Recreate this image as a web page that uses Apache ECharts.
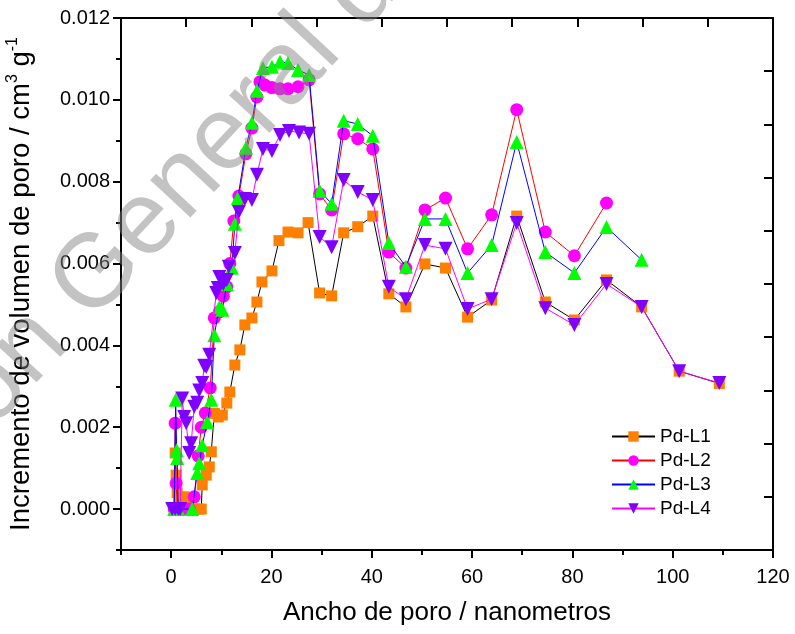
<!DOCTYPE html>
<html>
<head>
<meta charset="utf-8">
<script src="https://cdn.jsdelivr.net/npm/echarts@6/dist/echarts.min.js"></script>
<style>html,body{margin:0;padding:0;background:#fff;}#c{width:795px;height:634px;}</style>
</head>
<body>
<div id="c"></div>
<script>
// ---- data ----
var seriesNames = ['Pd-L1', 'Pd-L2', 'Pd-L3', 'Pd-L4'];
var xTickLabels = [0, 20, 40, 60, 80, 100, 120];
var yTickLabels = [0, 0.002, 0.004, 0.006, 0.008, 0.010, 0.012];

var l1x = [0.6, 0.8, 1.0, 1.2, 1.6, 2.6, 3.4, 4.6, 5.4, 6.0, 6.2, 7.0, 7.6, 8.0, 8.6, 9.4, 10.2, 11.1, 11.7, 12.7, 13.7, 14.7, 16.1, 17.1, 18.1, 20.1, 21.5, 23.3, 25.3, 27.3, 29.6, 32.0, 34.4, 37.2, 40.2, 43.4, 46.8, 50.6, 54.7, 59.1, 63.9, 68.9, 74.6, 80.4, 86.8, 93.8, 101.3, 109.3];
var l1y = [0.0, 0.00137, 0.00083, 0.0004, 0.0003, 0.0003, 0.0002, 0.0, 0.0, 0.0, 0.00059, 0.00083, 0.00103, 0.0014, 0.00234, 0.00225, 0.0023, 0.00259, 0.00286, 0.00352, 0.00389, 0.0045, 0.00467, 0.00506, 0.00555, 0.00582, 0.00656, 0.00677, 0.00675, 0.007, 0.00528, 0.00521, 0.00675, 0.0069, 0.00716, 0.00526, 0.00494, 0.00599, 0.00589, 0.00469, 0.00511, 0.00716, 0.00506, 0.00462, 0.0056, 0.00494, 0.00337, 0.00307];

var l2x = [0.6, 0.8, 1.0, 1.3, 2.6, 3.6, 4.6, 5.4, 6.0, 6.8, 7.8, 8.6, 9.6, 10.4, 11.1, 11.7, 12.5, 13.5, 14.9, 16.1, 17.1, 17.7, 18.7, 20.1, 21.7, 23.3, 25.3, 27.5, 29.6, 32.0, 34.4, 37.2, 40.2, 43.4, 46.8, 50.6, 54.7, 59.1, 63.9, 68.9, 74.6, 80.4, 86.8];
var l2y = [0.0, 0.0021, 0.00063, 0.0, 0.0, 0.0, 0.0003, 0.0013, 0.002, 0.00235, 0.00296, 0.00467, 0.00482, 0.0052, 0.00543, 0.006, 0.00704, 0.00765, 0.00868, 0.00931, 0.01007, 0.01044, 0.01036, 0.0103, 0.01027, 0.01027, 0.01032, 0.01049, 0.0077, 0.00731, 0.00917, 0.00905, 0.0088, 0.00628, 0.00589, 0.00731, 0.0076, 0.00636, 0.00719, 0.00976, 0.00677, 0.00619, 0.00748];

var l3x = [0.6, 0.9, 1.1, 1.2, 1.4, 4.2, 5.2, 5.6, 6.2, 7.2, 8.0, 8.6, 9.6, 10.2, 11.1, 12.1, 12.7, 13.3, 14.9, 16.1, 17.1, 18.3, 20.1, 21.7, 23.3, 25.3, 27.5, 29.6, 32.0, 34.4, 37.2, 40.2, 43.4, 46.8, 50.6, 54.7, 59.1, 63.9, 68.9, 74.6, 80.4, 86.8, 93.8];
var l3y = [0.0, 0.00267, 0.00144, 0.00125, 0.0, 0.0, 0.00088, 0.00112, 0.00156, 0.00213, 0.00267, 0.00425, 0.00494, 0.00487, 0.0055, 0.0059, 0.00697, 0.0076, 0.00883, 0.00944, 0.01022, 0.01078, 0.01081, 0.01093, 0.0109, 0.01073, 0.01061, 0.00778, 0.00746, 0.00949, 0.00941, 0.00912, 0.0065, 0.00592, 0.00709, 0.00709, 0.00577, 0.00645, 0.00897, 0.00628, 0.00577, 0.00689, 0.00609];

var l4x = [0.2, 0.8, 1.4, 1.8, 2.2, 2.6, 3.0, 3.6, 4.0, 4.6, 5.2, 5.6, 6.2, 6.6, 7.0, 7.6, 9.0, 9.3, 9.6, 10.4, 11.1, 11.5, 12.7, 13.5, 14.7, 16.1, 17.1, 18.3, 20.1, 21.7, 23.5, 25.5, 27.5, 29.6, 32.0, 34.4, 37.2, 40.2, 43.4, 46.8, 50.6, 54.7, 59.1, 63.9, 68.9, 74.6, 80.4, 86.8, 93.8, 101.3, 109.3];
var l4y = [0.0, 0.0, 0.0, 0.0, 0.0027, 0.00225, 0.0021, 0.00137, 0.00161, 0.0025, 0.0026, 0.0029, 0.00308, 0.0035, 0.00347, 0.00377, 0.00528, 0.0054, 0.00567, 0.0055, 0.0056, 0.00592, 0.00626, 0.00726, 0.00758, 0.00755, 0.00817, 0.0088, 0.00875, 0.00914, 0.00924, 0.0092, 0.00917, 0.00665, 0.0064, 0.00804, 0.00775, 0.00755, 0.00543, 0.00513, 0.00645, 0.00636, 0.00489, 0.00513, 0.00699, 0.00491, 0.0045, 0.0055, 0.00494, 0.00337, 0.00308];

// ---- chart ----
function pairs(xs, ys) { return xs.map(function (x, i) { return [x, ys[i]]; }); }
var FONT = "'Liberation Sans', Arial, sans-serif";
var chart = echarts.init(document.getElementById('c'), null, { renderer: 'canvas' });

var styles = [
  { sym: 'rect', size: 11, rot: 0, fill: '#FF8000', line: '#000000' },
  { sym: 'circle', size: 13, rot: 0, fill: '#FF00FF', line: '#FF0000' },
  { sym: 'triangle', size: 14, rot: 0, fill: '#00FF00', line: '#0000FF' },
  { sym: 'triangle', size: 14, rot: 180, fill: '#8000FF', line: '#FF00FF' }
];
var xsArr = [l1x, l2x, l3x, l4x];
var ysArr = [l1y, l2y, l3y, l4y];

var series = seriesNames.map(function (name, i) {
  var s = styles[i];
  return {
    name: name, type: 'line', xAxisIndex: 0, yAxisIndex: 0,
    data: pairs(xsArr[i], ysArr[i]),
    symbol: s.sym, symbolSize: s.size, symbolRotate: s.rot,
    showAllSymbol: true,
    itemStyle: { color: s.fill, opacity: 1 },
    lineStyle: { color: s.line, width: 1 },
    z: 2 + i,
    emphasis: { disabled: true }
  };
});

var axisLineStyle = { color: '#000', width: 2 };
var WM_ROT = 47 * Math.PI / 180;
var WM_FONT = 'normal 104px ' + FONT;
var WM_FILL = 'rgba(130,130,130,0.48)';

chart.setOption({
  animation: false,
  backgroundColor: '#fff',
  grid: { left: 121, right: 22, top: 18, bottom: 84, containLabel: false, outerBoundsMode: 'none' },
  legend: {
    data: seriesNames, orient: 'vertical', left: 606, top: 422,
    itemWidth: 43, itemHeight: 13, itemGap: 5,
    textStyle: { fontSize: 19, fontFamily: FONT, color: '#000' }
  },
  xAxis: [
    {
      type: 'value', position: 'bottom', min: -10, max: 120, interval: 10,
      axisLine: { show: true, onZero: false, lineStyle: axisLineStyle },
      axisTick: { show: true, inside: false, length: 8, lineStyle: { width: 2, color: '#000' }, customValues: xTickLabels },
      axisLabel: { customValues: xTickLabels, margin: 17, fontSize: 20, fontFamily: FONT, color: '#000' },
      splitLine: { show: false },
      name: 'Ancho de poro / nanometros', nameLocation: 'middle', nameGap: 50,
      nameTextStyle: { fontSize: 26, fontFamily: FONT, color: '#000' }
    },
    {
      type: 'value', position: 'bottom', min: -10, max: 120, interval: 10,
      axisLine: { show: false, onZero: false },
      axisTick: { show: true, inside: false, length: 5, lineStyle: { width: 2, color: '#000' } },
      axisLabel: { show: false }, splitLine: { show: false }
    },
    {
      type: 'value', position: 'top', min: 0, max: 10, interval: 1,
      axisLine: { show: true, onZero: false, lineStyle: axisLineStyle },
      axisTick: { show: true, inside: true, length: 9, lineStyle: { width: 2, color: '#000' } },
      axisLabel: { show: false }, splitLine: { show: false }
    }
  ],
  yAxis: [
    {
      type: 'value', position: 'left', min: -0.001, max: 0.012, interval: 0.001,
      axisLine: { show: true, onZero: false, lineStyle: axisLineStyle },
      axisTick: { show: true, inside: false, length: 8, lineStyle: { width: 2, color: '#000' }, customValues: yTickLabels },
      axisLabel: { customValues: yTickLabels, margin: 11, fontSize: 20, fontFamily: FONT, color: '#000',
        formatter: function (v) { return Number(v).toFixed(3); } },
      splitLine: { show: false },
      name: '{a|Incremento de volumen de poro / cm}{s|3}{a| g}{s|-1}',
      nameLocation: 'middle', nameGap: 84,
      nameTextStyle: {
        fontFamily: FONT, color: '#000',
        rich: {
          a: { fontSize: 27.5, fontFamily: FONT, color: '#000', lineHeight: 32 },
          s: { fontSize: 16, fontFamily: FONT, color: '#000', verticalAlign: 'top', lineHeight: 32 }
        }
      }
    },
    {
      type: 'value', position: 'left', min: -0.001, max: 0.012, interval: 0.001,
      axisLine: { show: false, onZero: false },
      axisTick: { show: true, inside: false, length: 5, lineStyle: { width: 2, color: '#000' } },
      axisLabel: { show: false }, splitLine: { show: false }
    },
    {
      type: 'value', position: 'right', min: 0, max: 10, interval: 1,
      axisLine: { show: true, onZero: false, lineStyle: axisLineStyle },
      axisTick: { show: true, inside: true, length: 9, lineStyle: { width: 2, color: '#000' } },
      axisLabel: { show: false }, splitLine: { show: false }
    }
  ],
  graphic: [
    {
      type: 'text', x: 108, y: 340, rotation: WM_ROT, z: 100, silent: true,
      style: { text: 'General de Bibliotecas', font: WM_FONT, fill: WM_FILL, textAlign: 'left', textVerticalAlign: 'bottom' }
    },
    {
      type: 'text', x: 108, y: 340, rotation: WM_ROT, z: 100, silent: true,
      style: { text: 'Dirección ', font: WM_FONT, fill: WM_FILL, textAlign: 'right', textVerticalAlign: 'bottom' }
    }
  ],
  series: series
});
</script>
</body>
</html>
